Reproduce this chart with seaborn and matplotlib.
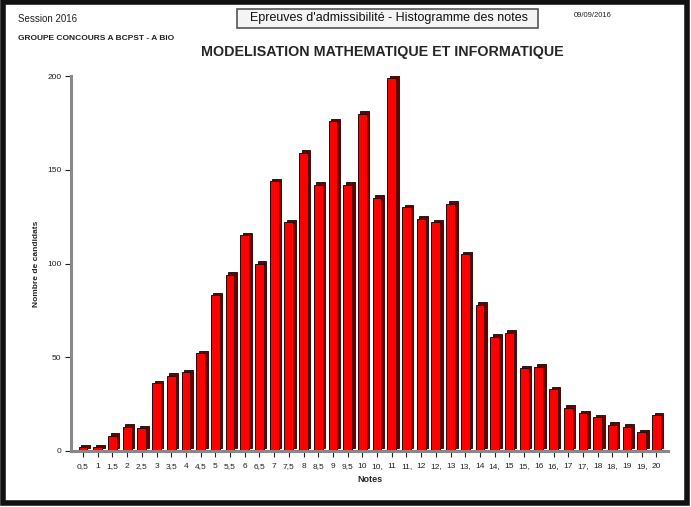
import matplotlib
matplotlib.use("Agg")
import matplotlib.pyplot as plt
import matplotlib.transforms as mtransforms
from matplotlib.patches import Rectangle
import pandas as pd
import seaborn as sns

notes = ["0,5", "1", "1,5", "2", "2,5", "3", "3,5", "4", "4,5", "5",
         "5,5", "6", "6,5", "7", "7,5", "8", "8,5", "9", "9,5", "10",
         "10,", "11", "11,", "12", "12,", "13", "13,", "14", "14,", "15",
         "15,", "16", "16,", "17", "17,", "18", "18,", "19", "19,", "20"]
candidats = [2, 2, 8, 13, 12, 36, 40, 42, 52, 83,
             94, 115, 100, 144, 122, 159, 142, 176, 142, 180,
             135, 199, 130, 124, 122, 132, 105, 78, 61, 63,
             44, 45, 33, 23, 20, 18, 14, 13, 10, 19]
y_ticks = [0, 50, 100, 150, 200]

df = pd.DataFrame({"Notes": notes, "Nombre de candidats": candidats})

sns.set_theme(style="white")
plt.rcParams["font.family"] = ["Liberation Sans", "DejaVu Sans"]

fig = plt.figure(figsize=(6.91, 5.07), dpi=100)
ax = fig.add_axes([0.1027, 0.1105, 0.8643, 0.7395])

# shadow (3d side) drawn first, shifted a little right and up
sns.barplot(data=df, x="Notes", y="Nombre de candidats", color="#6a0000",
            width=0.6, saturation=1, ax=ax)
shift = mtransforms.ScaledTranslation(2.5 / 100, 2.5 / 100, fig.dpi_scale_trans)
for p in ax.patches:
    p.set_transform(ax.transData + shift)
    p.set_edgecolor("#200000")
    p.set_linewidth(0.6)
n_shadow = len(ax.patches)

sns.barplot(data=df, x="Notes", y="Nombre de candidats", color="#ff0000",
            width=0.6, saturation=1, ax=ax)
for p in ax.patches[n_shadow:]:
    p.set_edgecolor("#400000")
    p.set_linewidth(0.7)

ax.set_xlim(-0.82, 39.8)
ax.set_ylim(0, 200)
ax.set_yticks(y_ticks)
ax.set_yticklabels([str(t) for t in y_ticks])
ax.tick_params(axis="both", labelsize=6, colors="#222222", length=4,
               width=0.8, direction="out", left=True, bottom=True, pad=3)
ax.tick_params(axis="x", length=8, direction="inout")

# x labels on a common baseline
ax.set_xticks(range(len(notes)))
ax.set_xticklabels([])
lab_tr = mtransforms.blended_transform_factory(ax.transData, ax.transAxes)
for i, n in enumerate(notes):
    ax.text(i, -0.045, n, transform=lab_tr, ha="center", va="baseline",
            fontsize=6, color="#222222")

for side in ["top", "right"]:
    ax.spines[side].set_visible(False)
for side in ["left", "bottom"]:
    ax.spines[side].set_color("#888888")
    ax.spines[side].set_linewidth(2.2)

ax.set_xlabel("Notes", fontsize=6.5, fontweight="bold", labelpad=10)
ax.set_ylabel("Nombre de candidats", fontsize=6, fontweight="bold", labelpad=5)

fig.text(0.026, 0.963, "Session 2016", fontsize=7, color="#222222", va="center")
fig.patches.append(Rectangle((237 / 691, 1 - 28 / 507), 301 / 691, 19 / 507,
                             transform=fig.transFigure, fc="#f4f4f4", ec="#555555", lw=1.2))
fig.text(0.563, 1 - 18.5 / 507, "Epreuves d'admissibilité - Histogramme des notes",
         fontsize=9, ha="center", va="center", color="#111111")
fig.text(0.83, 0.97, "09/09/2016", fontsize=5.5, color="#222222", va="center")
fig.text(0.026, 0.925, "GROUPE CONCOURS A BCPST - A BIO", fontsize=6,
         fontweight="bold", color="#222222", va="center")
fig.text(0.553, 0.897, "MODELISATION MATHEMATIQUE ET INFORMATIQUE",
         fontsize=10.3, fontweight="bold", ha="center", va="center")

fig.patches.append(Rectangle((0.004, 0.008), 0.99, 0.988, transform=fig.transFigure,
                             fill=False, ec="#111111", lw=4))

fig.savefig("out.png", dpi=100)
